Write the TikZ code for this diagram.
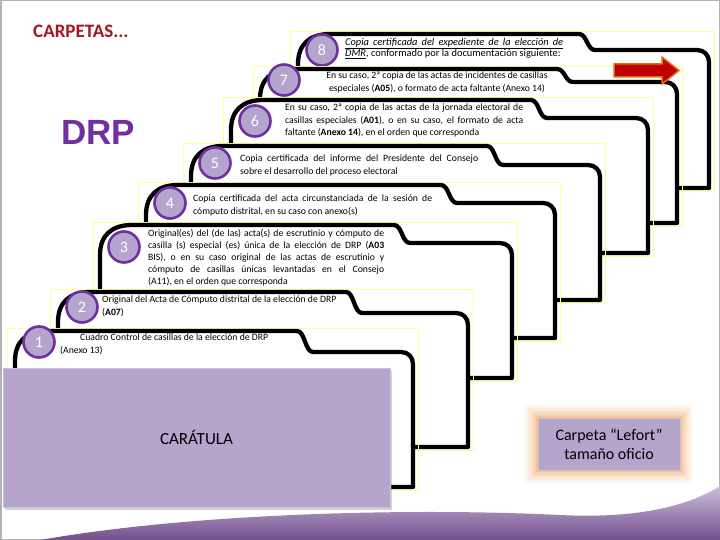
\documentclass[tikz,border=0pt]{standalone}
\usepackage{fontspec}
\setmainfont{Carlito}
\newfontfamily\headfont{Liberation Sans}
\usetikzlibrary{positioning,shadows}
\definecolor{lila}{RGB}{181,165,205}
\definecolor{morado}{RGB}{112,48,160}
\definecolor{rojo}{RGB}{165,22,35}
\definecolor{glow}{RGB}{255,255,150}
\definecolor{naranja}{RGB}{242,170,100}
\tikzset{
  basic/.style      = {font=\fontsize{9.7}{12.2}\selectfont, inner sep=0pt, anchor=north west},
  body/.style       = {basic, align=justify},
  badge/.style      = {circle, fill=lila, draw=morado, line width=2.6pt, minimum size=31pt,
                       inner sep=0pt, text=white, font=\fontsize{16}{16}\selectfont},
  folderline/.style = {draw=black, fill=white, line width=4.3pt, line join=round},
  glowframe/.style  = {draw=glow, line width=0.8pt},
  card/.style       = {rectangle, fill=lila, draw=lila!70!white, line width=0.8pt}
}
% cx, tab top, tab end, body top, right side, bottom
\newcommand{\drawfolder}[6]{%
  \draw[glowframe] (#1-32,#2-3) rectangle (#5+5,#6+3);
  \draw[folderline] (#1-24,#6) -- (#1-24,#2+30)
    .. controls (#1-24,#2+10) and (#1-12,#2) .. (#1+8,#2) -- (#3-6,#2)
    .. controls (#3+2,#2) and (#3+2,#4) .. (#3+10,#4) -- (#5-12,#4)
    .. controls (#5-5,#4) and (#5,#4+5) .. (#5,#4+12) -- (#5,#6) -- cycle;
}

\begin{document}
\begin{tikzpicture}[x=1pt,y=-1pt]
  \useasboundingbox (0,0) rectangle (720,540);
  \draw[gray!60, line width=1.5pt] (0.75,0.75) rectangle (719.25,539.25);
  % wave at the bottom
  \shade[top color=lila!70!white, bottom color=morado!70!black!80]
    (40,540) .. controls (200,512) and (420,508) .. (560,515)
    .. controls (640,519) and (690,505) .. (720,486) -- (720,540) -- cycle;

  \node[font=\bfseries\fontsize{19}{19}\selectfont, text=rojo, anchor=west, inner sep=0pt] (title) at (33,31) {CARPETAS...};
  \node[font=\headfont\bfseries\fontsize{35}{35}\selectfont, text=morado] (drp) at (98,132) {DRP};

  \drawfolder{322}{34}{585}{50}{709}{188}
  \node[badge] (n8) at (322,50) {8};
  \node[basic, align=left, font=\fontsize{10.4}{11.5}\selectfont] (t8) at (345,38)
    {\underline{\makebox[218pt][s]{\textit{Copia certificada del expediente de la elección de}}}\\
     \underline{\textit{DMR}}, conformado por la documentación siguiente:};

  \drawfolder{284}{69}{563}{82}{677}{223}
  \node[badge] (n7) at (284,80) {7};
  \node[basic, anchor=north, align=center, font=\fontsize{9.7}{13}\selectfont] (t7) at (437,72)
    {En su caso, 2ª copia de las actas de incidentes de casillas\\
     especiales (\textbf{A05}), o formato de acta faltante (Anexo 14)};

  \drawfolder{255}{100}{537}{118}{648}{253}
  \node[badge] (n6) at (255,121) {6};
  \node[body, text width=238pt] (t6) at (285,104)
    {En su caso, 2ª copia de las actas de la jornada electoral de\linebreak
     casillas especiales (\textbf{A01}), o en su caso, el formato de acta\linebreak
     faltante (\textbf{Anexo 14}), en el orden que corresponda};

  \drawfolder{215}{146}{493}{165}{600}{300}
  \node[badge] (n5) at (215,163) {5};
  \node[body, text width=238pt] (t5) at (240,155)
    {Copia certificada del informe del Presidente del Consejo\linebreak
     sobre el desarrollo del proceso electoral};

  \drawfolder{170}{185}{447}{203}{555}{338}
  \node[badge] (n4) at (170,203) {4};
  \node[body, text width=239pt] (t4) at (193,195)
    {Copia certificada del acta circunstanciada de la sesión de\linebreak
     cómputo distrital, en su caso con anexo(s)};

  \drawfolder{124}{225}{400}{243}{512}{378}
  \node[badge] (n3) at (124,247) {3};
  \node[body, text width=236pt, font=\fontsize{9.7}{11.9}\selectfont] (t3) at (148,229.5)
    {Original(es) del (de las) acta(s) de escrutinio y cómputo de\linebreak
     casilla (s) especial (es) única de la elección de DRP (\textbf{A03}\linebreak
     BIS), o en su caso original de las actas de escrutinio y\linebreak
     cómputo de casillas únicas levantadas en el Consejo\linebreak
     (A11), en el orden que corresponda};

  \drawfolder{82}{292}{352}{313}{468}{447}
  \node[badge] (n2) at (82,307) {2};
  \node[basic, align=left] (t2) at (102,296)
    {Original del Acta de Cómputo distrital de la elección de DRP\\ (\textbf{A07})};

  \drawfolder{39}{331}{303}{352}{413}{487}
  \node[badge] (n1) at (39,342) {1};
  \node[basic, align=left] (t1) at (60,334)
    {\hspace*{20pt}Cuadro Control de casillas de la elección de DRP\\(Anexo 13)};

  \node[card, minimum width=387pt, minimum height=139pt, font=\fontsize{17}{17}\selectfont,
        drop shadow={shadow xshift=2pt, shadow yshift=-3pt, opacity=0.35}] (cover) at (196.5,437.5) {CARÁTULA};

  \node[card, minimum width=142pt, minimum height=52pt, align=center, font=\fontsize{16}{19}\selectfont,
        preaction={draw=naranja!10, line width=26pt}, preaction={draw=naranja!22, line width=20pt},
        preaction={draw=naranja!36, line width=14pt}, preaction={draw=naranja!52, line width=9pt},
        preaction={draw=naranja!70, line width=4pt}]
        (lefort) at (609,444) {Carpeta “Lefort”\\ tamaño oficio};

  % arrow on the top folder
  \draw[fill={rgb,255:red,192;green,0;blue,0}, draw={rgb,255:red,228;green,108;blue,10}, line width=1.5pt, line join=miter]
    (614,64) -- (662,64) -- (662,57) -- (679,70.5) -- (662,84) -- (662,77) -- (614,77) -- cycle;
\end{tikzpicture}
\end{document}
